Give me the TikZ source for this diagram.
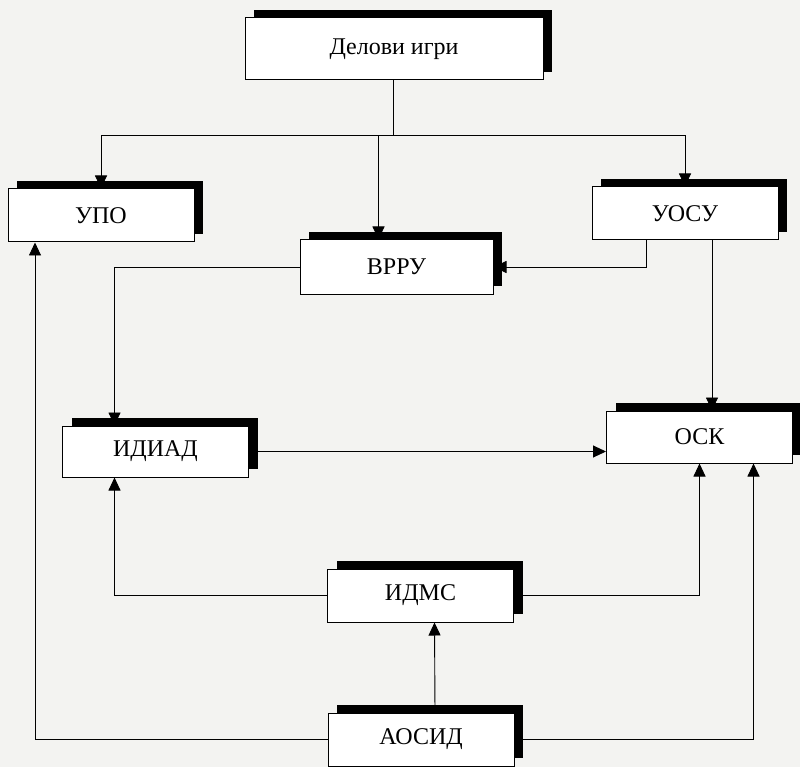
\documentclass[tikz,border=0pt]{standalone}
\usepackage{fontspec}
\setmainfont{Liberation Serif}
\usetikzlibrary{shadows,arrows.meta}

\definecolor{papir}{RGB}{243,243,241}

\tikzset{
  kutija/.style={draw, line width=1pt, fill=white, minimum width=186pt, minimum height=53pt,
    inner sep=0pt, font=\fontsize{24}{28}\selectfont,
    general shadow={fill=black, shadow xshift=9pt, shadow yshift=8pt}},
  strelica/.style={line width=0.9pt, -{Triangle[length=13pt,width=12pt]}},
  linija/.style={line width=0.9pt}
}

\begin{document}
\begin{tikzpicture}[x=1pt, y=-1pt]  % koordinate u pikselima, y nadole

    % pozadina
    \fill[papir] (0,0) rectangle (800,767);
    \useasboundingbox (0,0) rectangle (800,767);

    % blokovi
    \node[kutija, minimum width=298pt, minimum height=62pt] (delovi) at (394,49) {Делови игри};
    \node[kutija] (upo) at (101,215.5) {УПО};
    \node[kutija, minimum width=193pt, minimum height=54pt] (vrru) at (396.5,267) {ВРРУ};
    \node[kutija] (uosu) at (685,213.5) {УОСУ};
    \node[kutija, minimum height=51pt] (idiad) at (155.5,451.5) {ИДИАД};
    \node[kutija, minimum height=52pt] (osk) at (699.5,437) {ОСК};
    \node[kutija] (idms) at (420.5,595.5) {ИДМС};
    \node[kutija] (aosid) at (421,739.5) {АОСИД};

    % grananje ispod gornjeg bloka
    \coordinate (grana) at (393,135);
    \draw[linija] (delovi.south -| grana) -- (grana);
    \draw[strelica] (grana) -| (upo.north);
    \draw[strelica] (grana) -| (uosu.north);
    \draw[strelica] (grana) -| ([xshift=-18pt]vrru.north);

    % veze od УОСУ
    \draw[strelica] ([xshift=-39pt]uosu.south) |- (vrru.east);
    \draw[strelica] ([xshift=27pt]uosu.south) -- ([xshift=27pt]uosu.south |- osk.north);

    % veze od ВРРУ i ИДИАД
    \draw[strelica] (vrru.west) -| ([xshift=-41pt]idiad.north);
    \draw[strelica] (idiad.east) -- (idiad.east -| osk.west);

    % veze od ИДМС
    \draw[strelica] (idms.west) -| ([xshift=-41pt]idiad.south);
    \draw[strelica] (idms.east) -| (osk.south);

    % veze od АОСИД
    \draw[strelica] ([xshift=14pt]aosid.north) -- ([xshift=14pt]idms.south);
    \draw[strelica] (aosid.west) -| ([xshift=-66pt]upo.south);
    \draw[strelica] (aosid.east) -| ([xshift=54pt]osk.south);

\end{tikzpicture}
\end{document}
